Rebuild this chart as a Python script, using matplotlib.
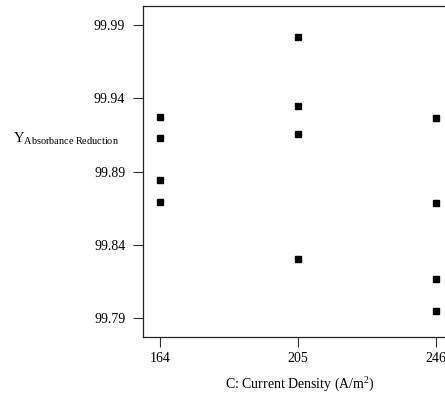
import matplotlib
matplotlib.use("Agg")
import matplotlib.pyplot as plt

plt.rcParams["font.family"] = ["Liberation Serif", "DejaVu Serif"]
plt.rcParams["mathtext.fontset"] = "custom"
plt.rcParams["mathtext.rm"] = "Liberation Serif"
plt.rcParams["mathtext.it"] = "Liberation Serif:italic"

# Design points: current density level and observed absorbance reduction
current_density = [164, 164, 164, 164,
                   205, 205, 205, 205,
                   246, 246, 246, 246]
absorbance_red = [99.9271, 99.9128, 99.8840, 99.8694,
                  99.9814, 99.9346, 99.9155, 99.8306,
                  99.9267, 99.8685, 99.8168, 99.7950]

x_ticks = [164, 205, 246]
y_ticks = [99.79, 99.84, 99.89, 99.94, 99.99]

fig = plt.figure(figsize=(4.45, 3.94), dpi=100)
ax = fig.add_axes([0.3207, 0.1447, 0.6973, 0.8408])

ax.plot(current_density, absorbance_red, linestyle="none", marker="s",
        markersize=4.4, color="black", clip_on=False)

ax.set_xlim(158.86, 251.14)
ax.set_ylim(99.7773, 100.003)
ax.set_xticks(x_ticks)
ax.set_xticklabels([str(v) for v in x_ticks])
ax.set_yticks(y_ticks)
ax.set_yticklabels([f"{v:.2f}" for v in y_ticks])

ax.tick_params(axis="both", direction="out", length=7, width=0.8,
               labelsize=10, color="#333333")
ax.tick_params(axis="y", pad=5.5)
ax.tick_params(axis="x", pad=4)
for s in ax.spines.values():
    s.set_linewidth(0.9)
    s.set_color("#222222")

fig.text(13 / 445, 1 - 139 / 394,
         r"$\mathrm{Y}_{\mathrm{Absorbance\ Reduction}}$",
         ha="left", va="center", fontsize=10.5)
fig.text(299.5 / 445, 1 - 389 / 394, "C: Current Density (A/m$^2$)",
         ha="center", va="baseline", fontsize=10)

fig.savefig("out.png", dpi=100)
